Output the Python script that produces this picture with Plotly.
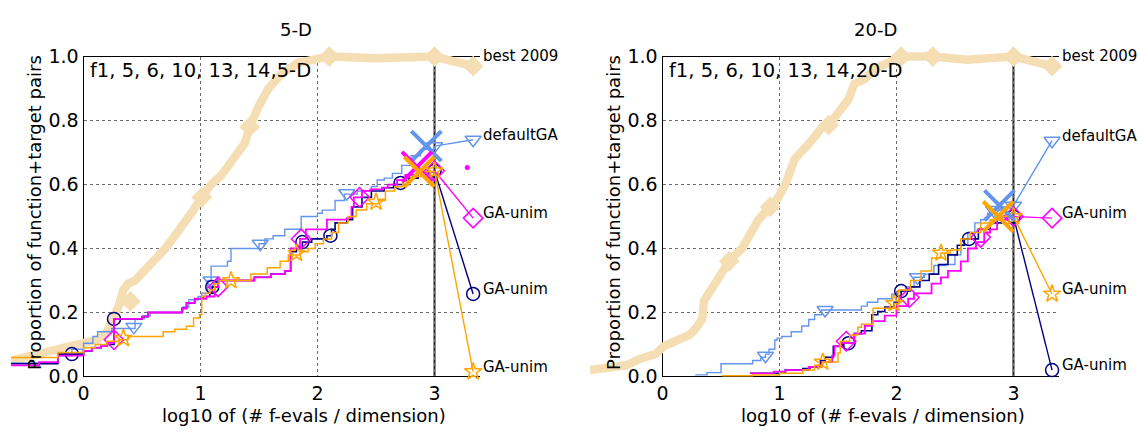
import plotly.graph_objects as go

# ---------------- 5-D panel ----------------
best_5d_x = [-0.62, -0.45, -0.25, -0.10, 0.00, 0.12, 0.20, 0.26, 0.30, 0.34, 0.38, 0.44, 0.52,
             0.61, 0.70, 0.78, 0.87, 0.94, 1.01, 1.09, 1.18, 1.29, 1.38, 1.42, 1.49, 1.58,
             1.69, 1.83, 2.00, 2.10, 2.50, 3.00, 3.33]
best_5d_y = [0.05, 0.065, 0.08, 0.09, 0.10, 0.115, 0.14, 0.18, 0.22, 0.27, 0.29, 0.30, 0.33,
             0.37, 0.40, 0.44, 0.48, 0.52, 0.56, 0.60, 0.63, 0.69, 0.73, 0.78, 0.84, 0.90,
             0.945, 0.98, 0.99, 1.00, 0.995, 1.00, 0.97]
best_5d_mx = [0.40, 1.01, 1.42, 2.10, 3.00, 3.33]
best_5d_my = [0.235, 0.56, 0.78, 1.00, 1.00, 0.97]

dga_5d_x = [-0.62, -0.22, -0.10, 0.00, 0.08, 0.12, 0.24, 0.44, 0.52, 0.57, 0.85, 0.90, 0.98,
            1.01, 1.06, 1.09, 1.23, 1.26, 1.50, 1.55, 1.62, 1.72, 1.86, 2.00, 2.04, 2.15,
            2.23, 2.34, 2.46, 2.51, 2.57, 2.64, 2.72, 2.80, 2.88, 3.00]
dga_5d_y = [0.042, 0.065, 0.085, 0.104, 0.125, 0.14, 0.15, 0.18, 0.19, 0.20, 0.217, 0.24, 0.25,
            0.26, 0.30, 0.345, 0.36, 0.40, 0.415, 0.43, 0.44, 0.46, 0.50, 0.51, 0.52, 0.55,
            0.57, 0.58, 0.594, 0.614, 0.62, 0.635, 0.66, 0.69, 0.71, 0.72]
dga_5d_mx = [0.43, 1.09, 1.51, 2.25, 3.00]
dga_5d_my = [0.155, 0.30, 0.415, 0.573, 0.72]
dga_5d_final = 0.74

navy_5d_x = [-0.62, -0.22, 0.00, 0.07, 0.15, 0.20, 0.26, 0.50, 0.55, 0.84, 0.88, 0.95, 1.02,
             1.08, 1.10, 1.15, 1.46, 1.60, 1.72, 1.77, 1.82, 1.87, 1.95, 2.08, 2.12, 2.15,
             2.25, 2.30, 2.38, 2.46, 2.57, 2.65, 2.78, 2.86, 3.00]
navy_5d_y = [0.04, 0.07, 0.08, 0.09, 0.095, 0.10, 0.18, 0.187, 0.20, 0.213, 0.23, 0.243, 0.25,
             0.26, 0.28, 0.30, 0.31, 0.32, 0.33, 0.39, 0.40, 0.42, 0.43, 0.44, 0.46, 0.48,
             0.49, 0.53, 0.56, 0.58, 0.59, 0.60, 0.62, 0.64, 0.643]
navy_5d_mx = [-0.10, 0.26, 1.10, 1.87, 2.11, 2.71, 3.00]
navy_5d_my = [0.07, 0.18, 0.28, 0.42, 0.44, 0.605, 0.643]
navy_5d_final = 0.258

mag_5d_x = [-0.62, -0.38, -0.22, 0.00, 0.07, 0.15, 0.20, 0.26, 0.50, 0.55, 0.84, 0.88, 0.95,
            1.05, 1.12, 1.15, 1.46, 1.60, 1.72, 1.77, 1.85, 1.90, 2.08, 2.25, 2.29, 2.31,
            2.38, 2.45, 2.55, 2.60, 2.68, 2.75, 2.85, 3.00]
mag_5d_y = [0.035, 0.045, 0.065, 0.08, 0.09, 0.095, 0.105, 0.18, 0.187, 0.20, 0.213, 0.23, 0.243,
            0.25, 0.28, 0.30, 0.31, 0.32, 0.33, 0.40, 0.43, 0.46, 0.49, 0.495, 0.53, 0.56,
            0.58, 0.585, 0.59, 0.60, 0.614, 0.63, 0.64, 0.643]
mag_5d_mx = [0.26, 1.15, 1.86, 2.36, 3.00]
mag_5d_my = [0.115, 0.28, 0.43, 0.56, 0.643]
mag_5d_final = 0.495

orng_5d_x = [-0.62, -0.22, 0.00, 0.10, 0.20, 0.30, 0.38, 0.68, 0.78, 0.88, 0.94, 0.99, 1.01,
             1.04, 1.08, 1.12, 1.16, 1.43, 1.57, 1.68, 1.75, 1.85, 1.92, 1.98, 2.05, 2.12,
             2.18, 2.26, 2.33, 2.42, 2.52, 2.58, 2.66, 2.73, 2.80, 2.90, 3.00]
orng_5d_y = [0.059, 0.075, 0.09, 0.10, 0.11, 0.115, 0.125, 0.14, 0.148, 0.157, 0.183, 0.193, 0.25,
             0.26, 0.27, 0.29, 0.30, 0.32, 0.34, 0.36, 0.38, 0.39, 0.40, 0.415, 0.43, 0.45,
             0.48, 0.50, 0.52, 0.54, 0.55, 0.58, 0.593, 0.61, 0.625, 0.64, 0.643]
orng_5d_mx = [0.34, 1.26, 1.82, 2.50, 3.00]
orng_5d_my = [0.119, 0.30, 0.385, 0.545, 0.643]
orng_5d_final = 0.015

# large crosses (per-algorithm budget marks) and stray point
cross_5d_x = {"dga": 2.93, "mag": 2.85, "orng": 2.87}
cross_5d_y = {"dga": 0.72, "mag": 0.655, "orng": 0.64}
dot_5d_x = [3.28]
dot_5d_y = [0.653]

# ---------------- 20-D panel ----------------
best_20d_x = [-0.62, -0.31, -0.20, -0.06, 0.01, 0.11, 0.23, 0.28, 0.34, 0.355, 0.41, 0.48, 0.54,
              0.57, 0.62, 0.68, 0.71, 0.82, 0.92, 0.99, 1.05, 1.13, 1.25, 1.36, 1.42, 1.50,
              1.59, 1.64, 1.73, 1.81, 1.95, 2.04, 2.31, 2.60, 3.00, 3.33]
best_20d_y = [0.02, 0.035, 0.054, 0.07, 0.094, 0.11, 0.13, 0.148, 0.18, 0.237, 0.27, 0.307, 0.34,
              0.36, 0.38, 0.40, 0.42, 0.49, 0.53, 0.56, 0.60, 0.68, 0.727, 0.777, 0.786, 0.826,
              0.866, 0.915, 0.93, 0.96, 0.985, 1.00, 1.00, 0.99, 1.00, 0.97]
best_20d_mx = [0.57, 0.92, 1.42, 2.04, 2.31, 3.00, 3.33]
best_20d_my = [0.36, 0.53, 0.786, 1.00, 1.00, 1.00, 0.97]

dga_20d_x = [0.28, 0.38, 0.50, 0.77, 0.84, 0.88, 0.91, 0.96, 0.98, 1.02, 1.10, 1.19, 1.25, 1.30,
             1.36, 1.70, 1.75, 1.84, 1.96, 2.01, 2.08, 2.15, 2.24, 2.32, 2.42, 2.50, 2.55,
             2.61, 2.67, 2.72, 2.78, 2.84, 2.90, 3.00]
dga_20d_y = [0.005, 0.012, 0.04, 0.05, 0.06, 0.07, 0.085, 0.114, 0.12, 0.125, 0.14, 0.158, 0.178,
             0.193, 0.208, 0.22, 0.232, 0.243, 0.257, 0.267, 0.28, 0.31, 0.32, 0.347, 0.35,
             0.38, 0.41, 0.45, 0.48, 0.49, 0.51, 0.52, 0.53, 0.534]
dga_20d_mx = [0.88, 1.39, 2.18, 2.83, 3.00]
dga_20d_my = [0.065, 0.208, 0.31, 0.52, 0.534]
dga_20d_final = 0.737

navy_20d_x = [0.75, 1.05, 1.20, 1.26, 1.35, 1.39, 1.46, 1.55, 1.64, 1.70, 1.79, 1.84, 1.90, 1.98,
              2.02, 2.04, 2.12, 2.20, 2.28, 2.36, 2.44, 2.52, 2.58, 2.70, 2.80, 2.90, 3.00]
navy_20d_y = [0.01, 0.02, 0.025, 0.03, 0.05, 0.06, 0.094, 0.104, 0.134, 0.143, 0.193, 0.203,
              0.217, 0.232, 0.252, 0.267, 0.28, 0.30, 0.32, 0.35, 0.38, 0.41, 0.43, 0.46,
              0.48, 0.50, 0.50]
navy_20d_mx = [1.59, 2.04, 2.62, 3.00]
navy_20d_my = [0.104, 0.267, 0.43, 0.50]
navy_20d_final = 0.02

mag_20d_x = [0.75, 0.95, 1.05, 1.25, 1.36, 1.45, 1.47, 1.53, 1.64, 1.73, 1.79, 1.90, 2.00, 2.10,
             2.15, 2.30, 2.38, 2.44, 2.55, 2.61, 2.68, 2.75, 2.80, 2.86, 2.95, 3.00]
mag_20d_y = [0.01, 0.015, 0.02, 0.03, 0.045, 0.065, 0.095, 0.104, 0.134, 0.158, 0.173, 0.19,
             0.22, 0.243, 0.26, 0.29, 0.31, 0.33, 0.36, 0.40, 0.42, 0.45, 0.46, 0.49, 0.50, 0.50]
mag_20d_mx = [1.57, 2.11, 2.72, 3.00]
mag_20d_my = [0.11, 0.247, 0.435, 0.50]
mag_20d_final = 0.495

orng_20d_x = [0.51, 0.77, 1.00, 1.20, 1.30, 1.37, 1.50, 1.52, 1.60, 1.67, 1.70, 1.80, 1.98, 2.02,
              2.12, 2.21, 2.30, 2.38, 2.46, 2.55, 2.63, 2.72, 2.80, 2.90, 3.00]
orng_20d_y = [0.002, 0.005, 0.01, 0.02, 0.035, 0.045, 0.074, 0.11, 0.13, 0.154, 0.163, 0.213,
              0.228, 0.27, 0.30, 0.33, 0.37, 0.386, 0.395, 0.43, 0.45, 0.48, 0.49, 0.50, 0.50]
orng_20d_mx = [1.37, 1.98, 2.38, 3.00]
orng_20d_my = [0.045, 0.228, 0.386, 0.50]
orng_20d_final = 0.258

cross_20d_x = {"dga": 2.88, "orng": 2.87}
cross_20d_y = {"dga": 0.535, "orng": 0.50}

budget_x = 3.00          # log10 of the evaluation budget per dimension
final_x = 3.33           # where the final proportions are shown

panel_titles = ["5-D", "20-D"]
panel_texts = ["f1, 5, 6, 10, 13, 14,5-D", "f1, 5, 6, 10, 13, 14,20-D"]
x_ticks = [0, 1, 2, 3]
x_ticktext = ["0", "1", "2", "3"]
y_ticks = [0.0, 0.2, 0.4, 0.6, 0.8, 1.0]
y_ticktext = ["0.0", "0.2", "0.4", "0.6", "0.8", "1.0"]

# ---------------- styles ----------------
FONT = "DejaVu Sans"
C_BEST = "#F5DEB3"
C_DGA = "#6495ED"
C_NAVY = "#000080"
C_MAG = "#FF00FF"
C_ORNG = "#FFA500"

W, H = 1138, 434
SX, SY = 117.6, 337.0          # pixels per unit on x and y
Y0 = 385.0                      # pixel row of y = 0
X0 = [78.0, 660.0]              # pixel column of x = 0 in each panel
XMAX = 3.39
TRACE_X = (-0.62, 3.45)
TRACE_Y = (-0.08, 1.08)


def xdom(x0, lo, hi):
    return [(x0 + lo * SX) / W, (x0 + hi * SX) / W]


def ydom(lo, hi):
    return [(H - Y0 + lo * SY) / H, (H - Y0 + hi * SY) / H]


fig = go.Figure()
layout = dict(
    width=W, height=H, autosize=False,
    margin=dict(l=0, r=0, t=0, b=0, pad=0),
    paper_bgcolor="white", plot_bgcolor="rgba(0,0,0,0)",
    showlegend=False,
    font=dict(family=FONT, color="black"),
)

axis_common = dict(showline=True, linecolor="black", linewidth=1.2, zeroline=False,
                   showgrid=True, gridcolor="#6a6a6a", griddash="dot", gridwidth=1,
                   ticks="", tickfont=dict(size=19, family=FONT, color="black"),
                   fixedrange=True)

annotations = []
shapes = []

panels = [
    dict(best=(best_5d_x, best_5d_y, best_5d_mx, best_5d_my),
         series=[
             ("dga", dga_5d_x, dga_5d_y, dga_5d_mx, dga_5d_my, dga_5d_final, C_DGA,
              "triangle-down-open", 14, 1.4, "defaultGA"),
             ("navy", navy_5d_x, navy_5d_y, navy_5d_mx, navy_5d_my, navy_5d_final, C_NAVY,
              "circle-open", 13, 1.6, "GA-unim"),
             ("mag", mag_5d_x, mag_5d_y, mag_5d_mx, mag_5d_my, mag_5d_final, C_MAG,
              "diamond-open", 15, 1.8, "GA-unim"),
             ("orng", orng_5d_x, orng_5d_y, orng_5d_mx, orng_5d_my, orng_5d_final, C_ORNG,
              "star-open", 13, 1.5, "GA-unim"),
         ],
         crosses=(cross_5d_x, cross_5d_y),
         dot=(dot_5d_x, dot_5d_y)),
    dict(best=(best_20d_x, best_20d_y, best_20d_mx, best_20d_my),
         series=[
             ("dga", dga_20d_x, dga_20d_y, dga_20d_mx, dga_20d_my, dga_20d_final, C_DGA,
              "triangle-down-open", 14, 1.4, "defaultGA"),
             ("navy", navy_20d_x, navy_20d_y, navy_20d_mx, navy_20d_my, navy_20d_final, C_NAVY,
              "circle-open", 13, 1.6, "GA-unim"),
             ("mag", mag_20d_x, mag_20d_y, mag_20d_mx, mag_20d_my, mag_20d_final, C_MAG,
              "diamond-open", 15, 1.8, "GA-unim"),
             ("orng", orng_20d_x, orng_20d_y, orng_20d_mx, orng_20d_my, orng_20d_final, C_ORNG,
              "star-open", 13, 1.5, "GA-unim"),
         ],
         crosses=(cross_20d_x, cross_20d_y),
         dot=None),
]
colors = {"dga": C_DGA, "navy": C_NAVY, "mag": C_MAG, "orng": C_ORNG}

for i, p in enumerate(panels):
    bx, by = ("x", "y") if i == 0 else ("x3", "y3")
    tx, ty = ("x2", "y2") if i == 0 else ("x4", "y4")
    bxk = "xaxis" if i == 0 else "xaxis3"
    byk = "yaxis" if i == 0 else "yaxis3"
    txk = "xaxis2" if i == 0 else "xaxis4"
    tyk = "yaxis2" if i == 0 else "yaxis4"
    x0 = X0[i]

    # frame, grid and ticks
    layout[bxk] = dict(axis_common, domain=xdom(x0, 0, XMAX), range=[0, XMAX], anchor=by,
                       tickvals=x_ticks, ticktext=x_ticktext, mirror=True)
    layout[byk] = dict(axis_common, domain=ydom(0, 1), range=[0, 1], anchor=bx,
                       tickvals=y_ticks, ticktext=y_ticktext, mirror=False)
    # drawing area (same scale, wider so curves may run past the frame)
    layout[txk] = dict(domain=xdom(x0, *TRACE_X), range=list(TRACE_X), anchor=ty,
                       visible=False, fixedrange=True)
    layout[tyk] = dict(domain=ydom(*TRACE_Y), range=list(TRACE_Y), anchor=tx,
                       visible=False, fixedrange=True)

    # budget line
    shapes.append(dict(type="line", xref=bx, yref=by, x0=budget_x, x1=budget_x, y0=0, y1=1,
                       line=dict(color="#222222", width=2), layer="below"))

    # best 2009 reference
    bxs, bys, bmx, bmy = p["best"]
    fig.add_trace(go.Scatter(x=bxs, y=bys, mode="lines", xaxis=tx, yaxis=ty,
                             line=dict(color=C_BEST, width=8.5), hoverinfo="skip"))
    fig.add_trace(go.Scatter(x=bmx, y=bmy, mode="markers", xaxis=tx, yaxis=ty, cliponaxis=False,
                             marker=dict(symbol="diamond", size=16, color=C_BEST,
                                         line=dict(width=0)), hoverinfo="skip"))
    annotations.append(dict(x=3.40, y=max(bys), xref=tx, yref=ty, text="best 2009",
                            showarrow=False, xanchor="left", yanchor="middle", yshift=1,
                            font=dict(size=15, family=FONT, color="black")))

    for key, sx, sy, mx, my, fin, col, sym, msz, lw, name in p["series"]:
        fig.add_trace(go.Scatter(x=sx, y=sy, mode="lines", xaxis=tx, yaxis=ty,
                                 line=dict(color=col, width=lw, shape="hv"), hoverinfo="skip"))
        fig.add_trace(go.Scatter(x=[sx[-1], final_x], y=[sy[-1], fin], mode="lines",
                                 xaxis=tx, yaxis=ty, line=dict(color=col, width=1.4),
                                 hoverinfo="skip"))
        fig.add_trace(go.Scatter(x=mx + [final_x], y=my + [fin], mode="markers",
                                 xaxis=tx, yaxis=ty, cliponaxis=False,
                                 marker=dict(symbol=sym, size=msz, color=col,
                                             line=dict(width=1.5, color=col)),
                                 hoverinfo="skip"))
        annotations.append(dict(x=3.40, y=fin, xref=tx, yref=ty, text=name, showarrow=False,
                                xanchor="left", yanchor="middle", yshift=5,
                                font=dict(size=15, family=FONT, color="black")))

    if p["dot"] is not None:
        fig.add_trace(go.Scatter(x=p["dot"][0], y=p["dot"][1], mode="markers",
                                 xaxis=tx, yaxis=ty, cliponaxis=False,
                                 marker=dict(size=5, color=C_MAG), hoverinfo="skip"))

    cx, cy = p["crosses"]
    for key in ["dga", "mag", "orng"]:
        if key in cx:
            fig.add_trace(go.Scatter(x=[cx[key]], y=[cy[key]], mode="markers",
                                     xaxis=tx, yaxis=ty, cliponaxis=False,
                                     marker=dict(symbol="x-thin-open", size=30, color=colors[key],
                                                 line=dict(width=4, color=colors[key])),
                                     hoverinfo="skip"))

    # panel texts
    annotations.append(dict(x=0.04, y=0.957, xref=bx, yref=by, text=panel_texts[i],
                            showarrow=False, xanchor="left", yanchor="middle",
                            font=dict(size=19.5, family=FONT, color="black")))
    annotations.append(dict(x=(x0 + 214) / W, y=(H - 19) / H, xref="paper", yref="paper",
                            text=panel_titles[i], showarrow=False, xanchor="center",
                            yanchor="middle", font=dict(size=18, family=FONT, color="black")))
    annotations.append(dict(x=(x0 + 222) / W, y=(H - 412.5) / H, xref="paper", yref="paper",
                            text="log10 of (# f-evals / dimension)", showarrow=False,
                            xanchor="center", yanchor="top",
                            font=dict(size=18, family=FONT, color="black")))
    annotations.append(dict(x=(x0 - 50) / W, y=(H - 212) / H, xref="paper", yref="paper",
                            text="Proportion of function+target pairs", showarrow=False,
                            textangle=-90, xanchor="center", yanchor="middle",
                            font=dict(size=18, family=FONT, color="black")))

layout["annotations"] = annotations
layout["shapes"] = shapes
fig.update_layout(**layout)
fig.write_html("out.html",
               post_script="document.body.style.margin='0';"
                           "document.body.style.overflow='hidden';")
